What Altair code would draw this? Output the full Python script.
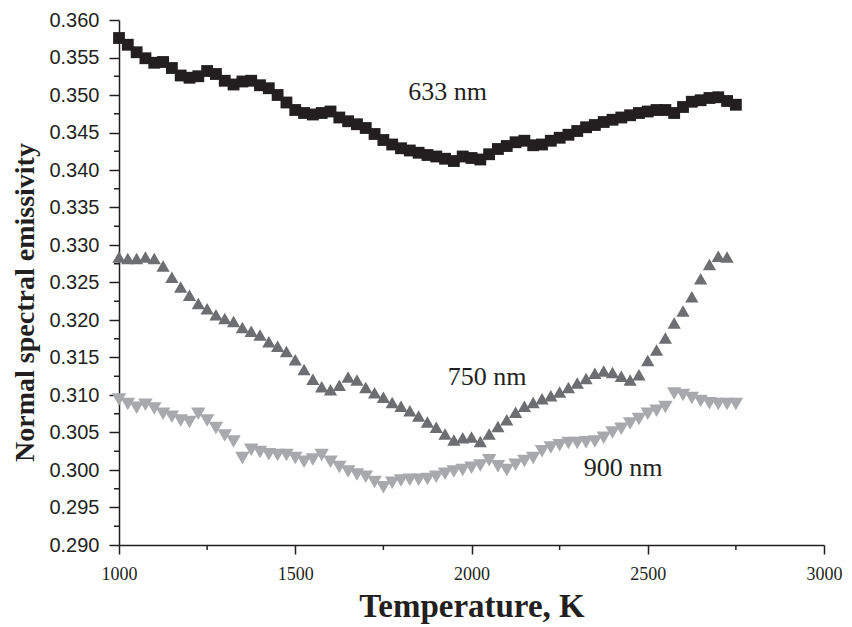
import altair as alt
import pandas as pd

temps_633 = list(range(1000, 2751, 25))
vals_633 = [0.3576, 0.3567, 0.3557, 0.3549, 0.3543, 0.3544, 0.3536, 0.3526, 0.3523, 0.3525,
            0.3532, 0.3528, 0.3519, 0.3514, 0.3518, 0.3519, 0.3513, 0.3509, 0.3500, 0.3490,
            0.3480, 0.3476, 0.3474, 0.3476, 0.3478, 0.3470, 0.3465, 0.3461, 0.3456, 0.3448,
            0.3440, 0.3434, 0.3429, 0.3426, 0.3423, 0.3420, 0.3418, 0.3415, 0.3412, 0.3418,
            0.3416, 0.3414, 0.3421, 0.3428, 0.3432, 0.3437, 0.3439, 0.3433, 0.3434, 0.3439,
            0.3443, 0.3447, 0.3452, 0.3457, 0.3460, 0.3464, 0.3467, 0.3470, 0.3473, 0.3476,
            0.3478, 0.3480, 0.3480, 0.3476, 0.3484, 0.3491, 0.3493, 0.3496, 0.3497, 0.3492,
            0.3487]

temps_750 = list(range(1000, 2726, 25))
vals_750 = [0.3284, 0.3282, 0.3282, 0.3284, 0.3282, 0.3272, 0.3257, 0.3244, 0.3233, 0.3222,
            0.3215, 0.3207, 0.3202, 0.3198, 0.3190, 0.3185, 0.3180, 0.3171, 0.3165, 0.3158,
            0.3147, 0.3134, 0.3121, 0.3111, 0.3107, 0.3113, 0.3124, 0.3120, 0.3110, 0.3103,
            0.3097, 0.3090, 0.3085, 0.3079, 0.3072, 0.3064, 0.3057, 0.3048, 0.3040, 0.3043,
            0.3044, 0.3038, 0.3048, 0.3058, 0.3067, 0.3077, 0.3085, 0.3090, 0.3095, 0.3099,
            0.3104, 0.3110, 0.3116, 0.3122, 0.3129, 0.3132, 0.3130, 0.3125, 0.3120, 0.3127,
            0.3146, 0.3160, 0.3176, 0.3196, 0.3212, 0.3231, 0.3255, 0.3274, 0.3285, 0.3284]

temps_900 = list(range(1000, 2751, 25))
vals_900 = [0.3094, 0.3088, 0.3083, 0.3087, 0.3082, 0.3075, 0.3071, 0.3066, 0.3064, 0.3075,
            0.3066, 0.3056, 0.3046, 0.3038, 0.3016, 0.3027, 0.3024, 0.3021, 0.3020, 0.3020,
            0.3016, 0.3011, 0.3014, 0.3020, 0.3011, 0.3004, 0.2998, 0.2994, 0.2991, 0.2984,
            0.2977, 0.2983, 0.2986, 0.2987, 0.2987, 0.2988, 0.2991, 0.2995, 0.2998, 0.3000,
            0.3003, 0.3006, 0.3013, 0.3005, 0.3000, 0.3007, 0.3012, 0.3016, 0.3025, 0.3030,
            0.3033, 0.3036, 0.3036, 0.3037, 0.3038, 0.3043, 0.3050, 0.3055, 0.3062, 0.3068,
            0.3075, 0.3079, 0.3084, 0.3102, 0.3100, 0.3096, 0.3092, 0.3089, 0.3088, 0.3088,
            0.3088]

series_names = ["633 nm", "750 nm", "900 nm"]
series_colors = ["#231f20", "#6d6e71", "#a7a9ac"]
series_shapes = ["square", "triangle-up", "triangle-down"]
series_sizes = [140, 210, 210]

label_texts = ["633 nm", "750 nm", "900 nm"]
label_temps = [1932, 2044, 2430]
label_vals = [0.3504, 0.3124, 0.3003]

x_major = [1000, 1500, 2000, 2500, 3000]
x_minor = [1250, 1750, 2250, 2750]
y_major = [0.290, 0.295, 0.300, 0.305, 0.310, 0.315, 0.320, 0.325, 0.330,
           0.335, 0.340, 0.345, 0.350, 0.355, 0.360]
y_minor = [0.2925, 0.2975, 0.3025, 0.3075, 0.3125, 0.3175, 0.3225, 0.3275,
           0.3325, 0.3375, 0.3425, 0.3475, 0.3525, 0.3575]

rows = []
for name, ts, vs in [(series_names[0], temps_633, vals_633),
                     (series_names[1], temps_750, vals_750),
                     (series_names[2], temps_900, vals_900)]:
    for t, v in zip(ts, vs):
        rows.append({"T": t, "E": v, "series": name})
df = pd.DataFrame(rows)
labels_df = pd.DataFrame({"T": label_temps, "E": label_vals, "text": label_texts})

xscale = alt.Scale(domain=[1000, 3000], nice=False, zero=False)
yscale = alt.Scale(domain=[0.290, 0.360], nice=False, zero=False)

x_axis = alt.Axis(values=x_major, format="d", title="Temperature, K",
                  labelFont="Liberation Serif", labelFontSize=18, labelColor="#231f20",
                  labelFlush=False, labelOverlap=False,
                  titleFont="Liberation Serif", titleFontSize=33, titleFontWeight="bold",
                  titleColor="#231f20", titlePadding=7, tickSize=9, labelPadding=11,
                  domainColor="#231f20", tickColor="#231f20", domainWidth=1.5, tickWidth=1.5,
                  grid=False)
y_axis = alt.Axis(values=y_major, format=".3f", title="Normal spectral emissivity",
                  labelFont="Liberation Sans", labelFontSize=20, labelColor="#231f20",
                  labelFlush=False, labelOverlap=False, labelBound=False,
                  titleFont="Liberation Serif", titleFontSize=28, titleFontWeight="bold",
                  titleColor="#231f20", titlePadding=9, titleY=282, tickSize=10, labelPadding=10,
                  domainColor="#231f20", tickColor="#231f20", domainWidth=1.5, tickWidth=1.5,
                  grid=False)

points = alt.Chart(df).mark_point(filled=True, opacity=1, strokeWidth=0).encode(
    x=alt.X("T:Q", scale=xscale, axis=x_axis),
    y=alt.Y("E:Q", scale=yscale, axis=y_axis),
    color=alt.Color("series:N", scale=alt.Scale(domain=series_names, range=series_colors), legend=None),
    shape=alt.Shape("series:N", scale=alt.Scale(domain=series_names, range=series_shapes), legend=None),
    size=alt.Size("series:N", scale=alt.Scale(domain=series_names, range=series_sizes), legend=None),
)

minor_x = alt.Chart(pd.DataFrame({"T": x_minor})).mark_rule(
    color="#231f20", strokeWidth=1.5, clip=False).encode(
    x=alt.X("T:Q", scale=xscale, axis=x_axis),
    y=alt.value(525),
    y2=alt.value(530),
)
minor_y = alt.Chart(pd.DataFrame({"E": y_minor})).mark_rule(
    color="#231f20", strokeWidth=1.5, clip=False).encode(
    y=alt.Y("E:Q", scale=yscale, axis=y_axis),
    x=alt.value(-5),
    x2=alt.value(0),
)

texts = alt.Chart(labels_df).mark_text(font="Liberation Serif", fontSize=26, color="#231f20",
                                       align="center", baseline="middle").encode(
    x=alt.X("T:Q", scale=xscale, axis=x_axis),
    y=alt.Y("E:Q", scale=yscale, axis=y_axis),
    text="text:N",
)

chart = alt.layer(points, texts, minor_x, minor_y).properties(
    width=705, height=525,
    background="white",
    autosize=alt.AutoSizeParams(type="none"),
    padding={"left": 111, "top": 12, "right": 20, "bottom": 82},
).configure_view(stroke=None).configure_axis(labelOverlap=False)

chart.save("out.html", embed_options={"renderer": "svg", "actions": False})
